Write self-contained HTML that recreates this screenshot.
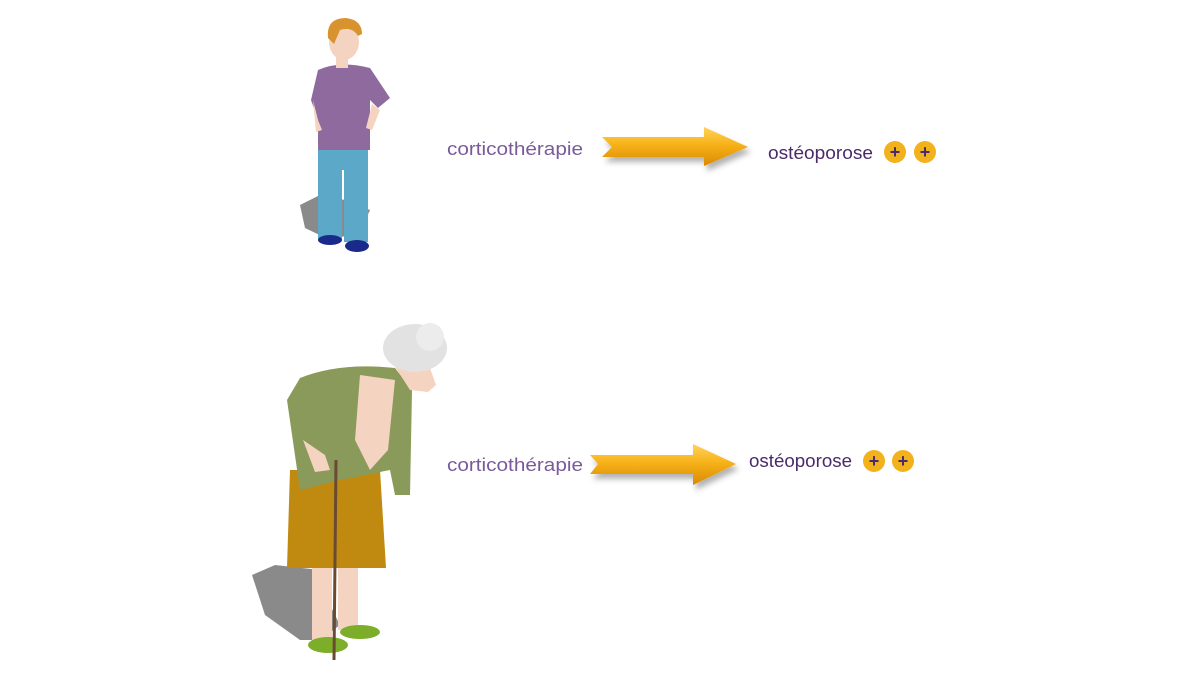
<!DOCTYPE html>
<html><head><meta charset="utf-8"><style>
html,body{margin:0;padding:0;background:#fff;width:1200px;height:676px;overflow:hidden}
text{font-family:"Liberation Sans",Arial,sans-serif}
</style></head><body>
<svg width="1200" height="676" viewBox="0 0 1200 676" xmlns="http://www.w3.org/2000/svg">
<defs>
<linearGradient id="ag" x1="0" y1="0" x2="0" y2="1">
<stop offset="0" stop-color="#ffd35a"/><stop offset="0.45" stop-color="#f7b21a"/><stop offset="1" stop-color="#d98a00"/>
</linearGradient>
<filter id="sh" x="-10%" y="-30%" width="130%" height="180%"><feDropShadow dx="3" dy="5" stdDeviation="3" flood-color="#000" flood-opacity="0.3"/></filter>
</defs>

<!-- Boy -->
<path d="M300 205 L320 195 L345 200 L370 210 L360 232 L330 240 L305 228 Z" fill="#8a8a8a"/>
<rect x="318" y="145" width="24" height="95" fill="#5ba8c8"/>
<rect x="344" y="145" width="24" height="97" fill="#5ba8c8"/>
<rect x="320" y="145" width="48" height="25" fill="#5ba8c8"/>
<ellipse cx="330" cy="240" rx="12" ry="5" fill="#1a2a8a"/>
<ellipse cx="357" cy="246" rx="12" ry="6" fill="#1a2a8a"/>
<path d="M318 70 Q340 60 370 68 L390 98 L378 108 L370 100 L370 150 L318 150 L318 120 L311 100 Z" fill="#8e6a9e"/>
<path d="M313 100 L318 120 L322 130 L316 132 Z" fill="#f4d3c0"/>
<path d="M372 104 L380 110 L372 130 L366 128 Z" fill="#f4d3c0"/>
<rect x="336" y="54" width="12" height="14" fill="#f4d3c0"/>
<ellipse cx="344" cy="42" rx="15" ry="18" fill="#f4d3c0"/>
<path d="M328 38 Q326 18 346 18 Q362 20 362 34 L358 36 Q352 26 340 30 L334 44 Z" fill="#d9932e"/>

<!-- Old woman -->
<path d="M252 575 L275 565 L320 570 L330 605 L340 625 L320 640 L300 640 L265 615 Z" fill="#8a8a8a"/>
<rect x="312" y="565" width="20" height="80" fill="#f4d3c0"/>
<rect x="338" y="565" width="20" height="65" fill="#f4d3c0"/>
<ellipse cx="328" cy="645" rx="20" ry="8" fill="#7cae2a"/>
<ellipse cx="360" cy="632" rx="20" ry="7" fill="#7cae2a"/>
<path d="M290 470 L380 470 L386 568 L287 568 Z" fill="#c08a10"/>
<path d="M300 378 Q340 362 395 368 L412 390 L410 495 L395 495 L390 470 L340 480 L300 490 L287 400 Z" fill="#8a9a5a"/>
<path d="M360 375 L395 380 L388 450 L370 470 L355 440 Z" fill="#f4d3c0"/>
<path d="M303 440 L325 455 L330 470 L315 472 Z" fill="#f4d3c0"/>
<line x1="336" y1="460" x2="334" y2="660" stroke="#6a4a30" stroke-width="3"/>
<path d="M394 365 Q420 350 430 368 L436 385 L428 392 L410 390 Z" fill="#f4d3c0"/>
<ellipse cx="415" cy="348" rx="32" ry="24" fill="#e2e2e2"/>
<circle cx="430" cy="337" r="14" fill="#ececec"/>

<!-- Top row -->
<text x="447" y="155" font-size="18" fill="#7a5a9a" textLength="136" lengthAdjust="spacingAndGlyphs">corticothérapie</text>
<path d="M602 137 L704 137 L704 127 L748 147 L704 166 L704 157 L602 157 L612 147 Z" fill="url(#ag)" filter="url(#sh)"/>
<text x="768" y="159" font-size="18" fill="#4a2a6a" textLength="105" lengthAdjust="spacingAndGlyphs">ostéoporose</text>
<circle cx="895" cy="152" r="11" fill="#f2b21c"/><text x="895" y="158" font-size="18" font-weight="bold" fill="#4a2a6a" text-anchor="middle">+</text>
<circle cx="925" cy="152" r="11" fill="#f2b21c"/><text x="925" y="158" font-size="18" font-weight="bold" fill="#4a2a6a" text-anchor="middle">+</text>

<!-- Bottom row -->
<text x="447" y="471" font-size="18" fill="#7a5a9a" textLength="136" lengthAdjust="spacingAndGlyphs">corticothérapie</text>
<path d="M590 455 L693 455 L693 444 L736 464 L693 485 L693 474 L590 474 L598 464 Z" fill="url(#ag)" filter="url(#sh)"/>
<text x="749" y="467" font-size="18" fill="#4a2a6a" textLength="103" lengthAdjust="spacingAndGlyphs">ostéoporose</text>
<circle cx="874" cy="461" r="11" fill="#f2b21c"/><text x="874" y="467" font-size="18" font-weight="bold" fill="#4a2a6a" text-anchor="middle">+</text>
<circle cx="903" cy="461" r="11" fill="#f2b21c"/><text x="903" y="467" font-size="18" font-weight="bold" fill="#4a2a6a" text-anchor="middle">+</text>
</svg>
</body></html>
